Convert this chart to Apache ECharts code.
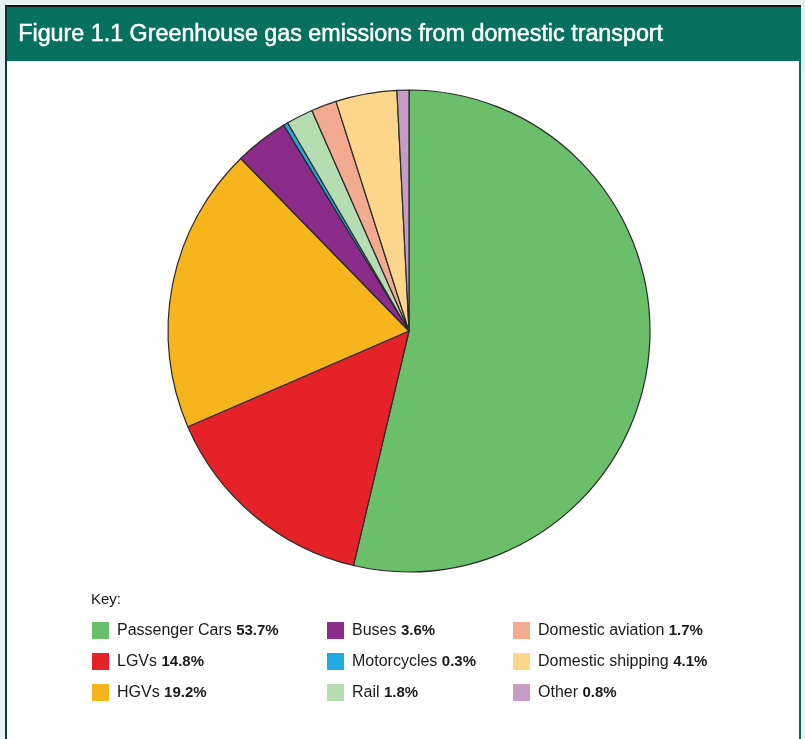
<!DOCTYPE html>
<html>
<head>
<meta charset="utf-8">
<style>
  html, body { margin: 0; padding: 0; background: #e4f2f2; }
  #chart { width: 805px; height: 739px; }
</style>
<script src="https://cdn.jsdelivr.net/npm/echarts@6/dist/echarts.min.js"></script>
</head>
<body>
<div id="chart"></div>
<script>
// Share of domestic transport greenhouse gas emissions, by mode (%)
const categories = [
  'Passenger Cars', 'LGVs', 'HGVs',
  'Buses', 'Motorcycles', 'Rail',
  'Domestic aviation', 'Domestic shipping', 'Other'
];
const shares = [53.7, 14.8, 19.2, 3.6, 0.3, 1.8, 1.7, 4.1, 0.8];
const colours = [
  '#6cbf6a', '#e52228', '#f6b51c',
  '#8b2b8a', '#1fa9e1', '#b6dcb2',
  '#f2aa90', '#fcd68b', '#c69bc8'
];
// Key columns, three entries each
const keyColumns = [
  ['Passenger Cars', 'LGVs', 'HGVs'],
  ['Buses', 'Motorcycles', 'Rail'],
  ['Domestic aviation', 'Domestic shipping', 'Other']
];
const keyLeft = [92, 327, 513];

const chart = echarts.init(document.getElementById('chart'));
const valueOf = name => shares[categories.indexOf(name)];
const FONT = '"Liberation Sans", Arial, sans-serif';

const legends = keyColumns.map((names, i) => ({
  data: names,
  orient: 'vertical',
  left: keyLeft[i],
  top: 622,
  padding: 0,
  icon: 'rect',
  itemWidth: 17,
  itemHeight: 17,
  itemGap: 14,
  selectedMode: false,
  itemStyle: { borderWidth: 0 },
  formatter: name => name + ' {v|' + valueOf(name).toFixed(1) + '%}',
  textStyle: {
    fontFamily: FONT,
    fontSize: 16,
    lineHeight: 17,
    color: '#1a1a1a',
    padding: [0, 0, 0, 3],
    rich: { v: { fontFamily: FONT, fontSize: 15, lineHeight: 17, fontWeight: 'bold', color: '#1a1a1a' } }
  }
}));

chart.setOption({
  backgroundColor: '#e4f2f2',
  animation: false,
  color: colours,
  legend: legends,
  graphic: [
    // white panel with border
    { type: 'rect', shape: { x: 6, y: 6, width: 794, height: 740 },
      style: { fill: '#ffffff', stroke: '#0a6b5c', lineWidth: 2 }, z: -10 },
    // dark edge on the top and left
    { type: 'rect', shape: { x: 5, y: 5, width: 796, height: 2 }, style: { fill: '#111' }, z: -9 },
    { type: 'rect', shape: { x: 5, y: 5, width: 2, height: 740 }, style: { fill: '#0b3a33' }, z: -9 },
    // title bar
    { type: 'rect', shape: { x: 7, y: 7, width: 794, height: 54 },
      style: { fill: '#08705f' }, z: -8 },
    { type: 'text', left: 18, top: 23, z: 5,
      style: { text: 'Figure 1.1 Greenhouse gas emissions from domestic transport',
        fill: '#ffffff', stroke: '#ffffff', lineWidth: 0.5, font: '23.3px ' + FONT } },
    { type: 'text', left: 91, top: 592, z: 5,
      style: { text: 'Key:', fill: '#1a1a1a', font: '15px ' + FONT } }
  ],
  series: [{
    type: 'pie',
    center: [409, 331],
    radius: 241,
    startAngle: 90,
    clockwise: true,
    label: { show: false },
    labelLine: { show: false },
    emphasis: { disabled: true },
    itemStyle: { borderColor: '#2a2a2a', borderWidth: 1.2 },
    data: categories.map((name, i) => ({ name: name, value: shares[i] }))
  }]
});
</script>
</body>
</html>
